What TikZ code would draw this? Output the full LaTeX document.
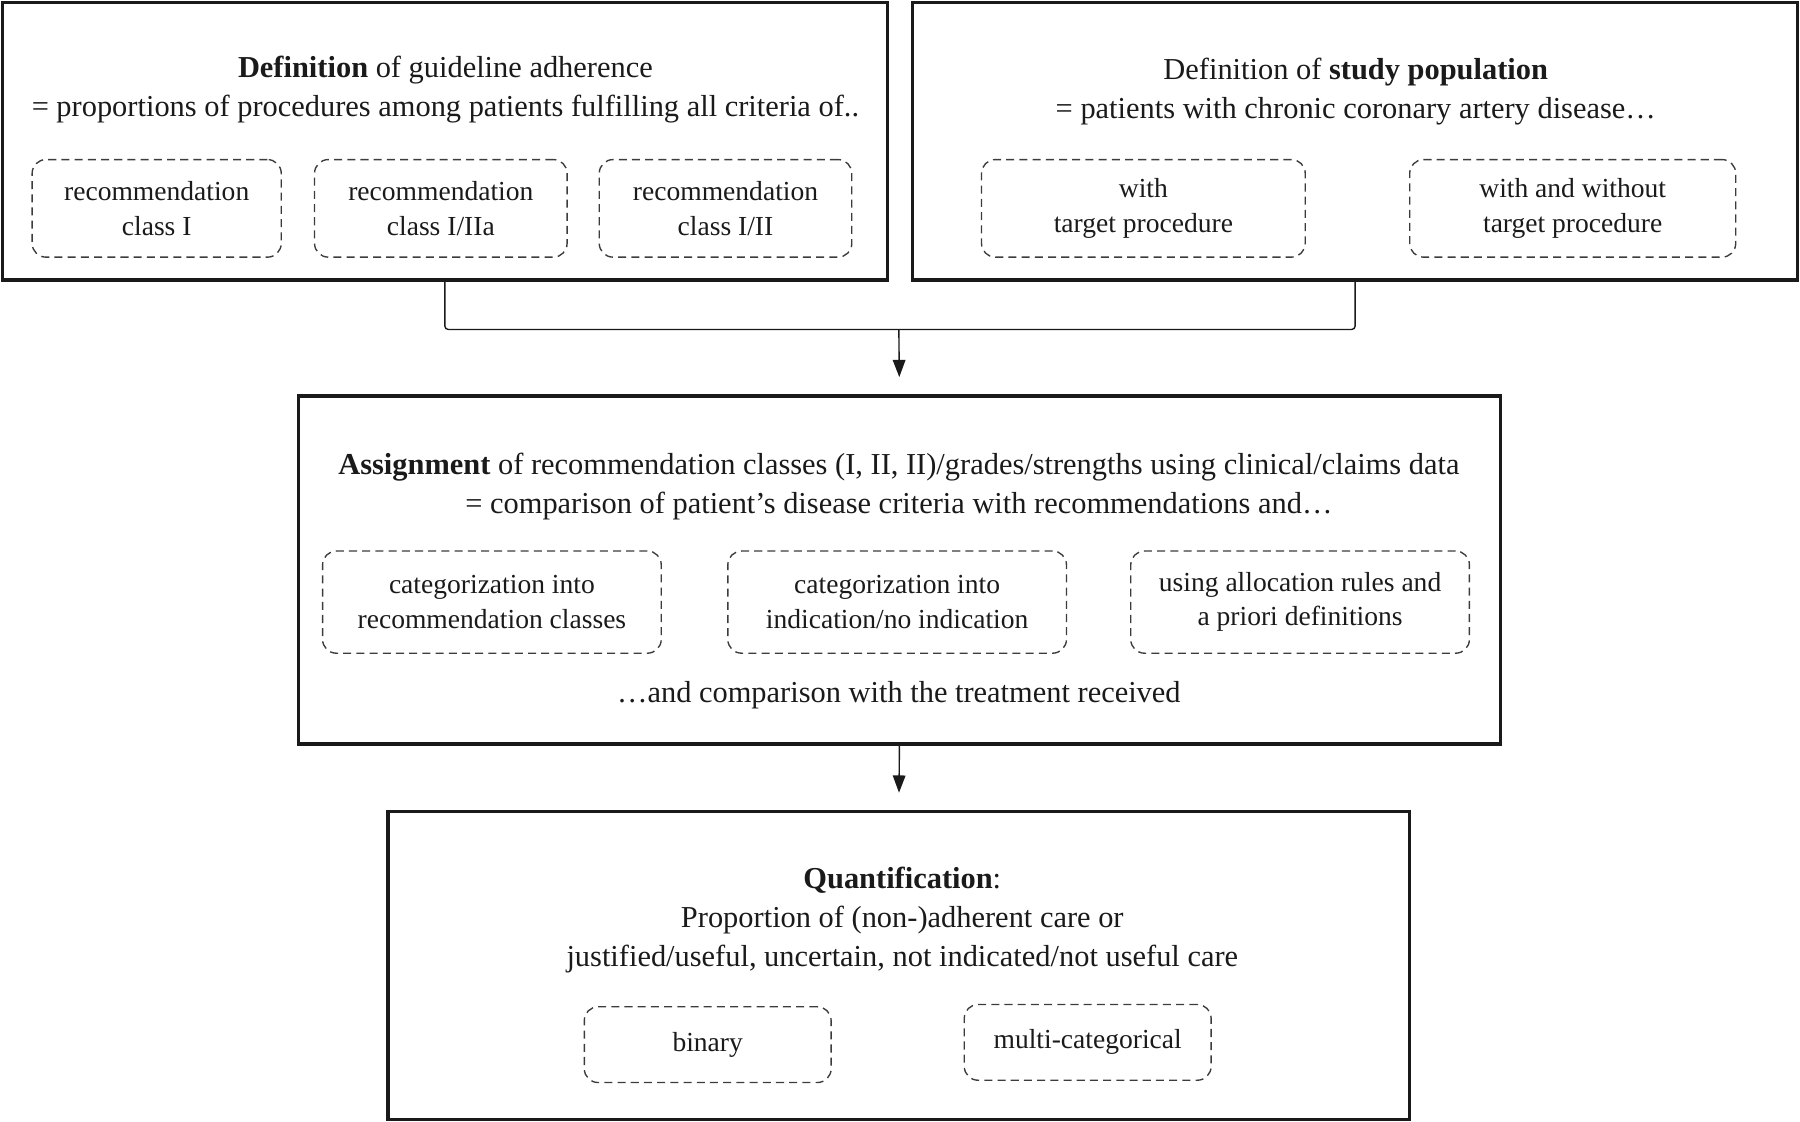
\documentclass[tikz,border=0pt]{standalone}
\usepackage{fontspec}
\setmainfont{Liberation Serif}
\usetikzlibrary{arrows.meta}
\definecolor{ink}{HTML}{1A1A1A}
\begin{document}
\begin{tikzpicture}[x=1pt,y=-1pt,
  bigbox/.style={draw=ink, line width=3pt, inner sep=0pt},
  txt/.style={align=center, inner sep=0pt, text=ink, font=\fontsize{26.5}{34}\selectfont},
  dbox/.style={draw=ink!85, line width=1.2pt, dash pattern=on 7pt off 4.5pt, rounded corners=12pt,
     align=center, inner sep=0pt, text=ink, font=\fontsize{24}{30}\selectfont},
  conn/.style={draw=ink, line width=1.2pt},
  arr/.style={draw=ink, line width=1.2pt, -{Triangle[length=15pt,width=11pt]}, shorten >=15pt}]
\useasboundingbox (0,0) rectangle (1568,977);
% top-left box
\node[bigbox, minimum width=771pt, minimum height=242pt] (A) at (387.5,123) {};
\node[txt] (At) at (388,78) {\textbf{Definition} of guideline adherence\\= proportions of procedures among patients fulfilling all criteria of..};
\node[dbox, minimum width=217pt, minimum height=85pt] (a1) at (136.5,181.5) {recommendation\\class I};
\node[dbox, minimum width=220pt, minimum height=85pt] (a2) at (384,181.5) {recommendation\\class I/IIa};
\node[dbox, minimum width=220pt, minimum height=85pt] (a3) at (632,181.5) {recommendation\\class I/II};
% top-right box
\node[bigbox, minimum width=771pt, minimum height=242pt] (B) at (1180.5,123) {};
\node[txt] (Bt) at (1181,80) {Definition of \textbf{study population}\\= patients with chronic coronary artery disease\ldots};
\node[dbox, minimum width=282pt, minimum height=85pt] (b1) at (996,181.5) {with\\target procedure};
\node[dbox, minimum width=284pt, minimum height=85pt] (b2) at (1370,181.5) {with and without\\target procedure};
% middle box
\node[bigbox, minimum width=1047pt, minimum height=303pt] (C) at (783.5,496.5) {};
\node[txt] (Ct) at (783,423.5) {\textbf{Assignment} of recommendation classes (I, II, II)/grades/strengths using clinical/claims data\\= comparison of patient’s disease criteria with recommendations and\ldots};
\node[dbox, minimum width=295pt, minimum height=89pt] (c1) at (428.5,524.5) {categorization into\\recommendation classes};
\node[dbox, minimum width=295pt, minimum height=89pt] (c2) at (781.5,524.5) {categorization into\\indication/no indication};
\node[dbox, minimum width=295pt, minimum height=89pt] (c3) at (1132.5,524.5) {using allocation rules and\\a priori definitions};
\node[txt] (Cb) at (783,606) {\ldots and comparison with the treatment received};
% bottom box
\node[bigbox, minimum width=890pt, minimum height=268pt] (D) at (783,841) {};
\node[txt] (Dt) at (786,801.5) {\textbf{Quantification}:\\Proportion of (non-)adherent care or\\justified/useful, uncertain, not indicated/not useful care};
\node[dbox, minimum width=215pt, minimum height=66pt] (d1) at (616.5,910) {binary};
\node[dbox, minimum width=215pt, minimum height=66pt] (d2) at (947.5,908) {multi-categorical};
% connectors
\coordinate (j) at (783,287);
\draw[conn, rounded corners=3pt] (A.south) |- (j) -| (B.south);
\draw[arr] (j) -- (C.north);
\draw[arr] (C.south) -- (D.north);
\end{tikzpicture}
\end{document}
